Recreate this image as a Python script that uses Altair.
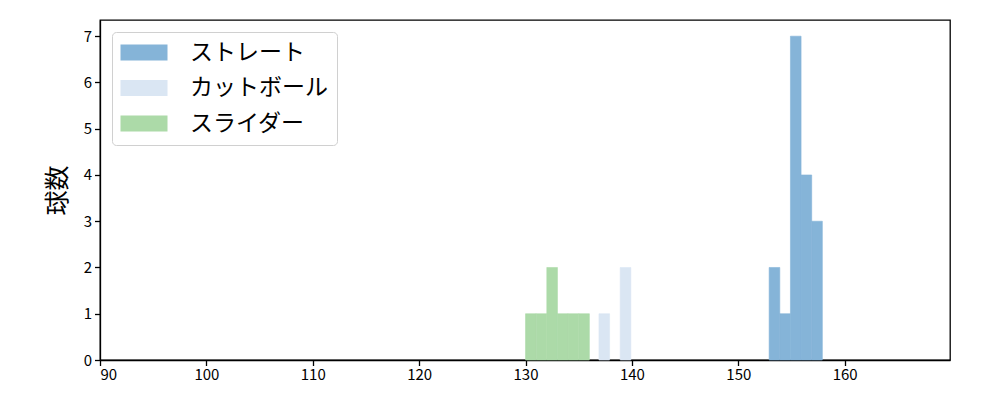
import altair as alt
import pandas as pd

series_names = ["ストレート", "カットボール", "スライダー"]
series_colors = ["#85b4d8", "#dae6f3", "#acdaa8"]

straight_start = [152.9, 153.9, 154.9, 155.9, 156.9]
straight_count = [2, 1, 7, 4, 3]
cutter_start = [136.9, 138.9]
cutter_count = [1, 2]
slider_start = [130, 131, 132, 133, 134, 135]
slider_count = [1, 1, 2, 1, 1, 1]
bin_width = 1.0

x_ticks = [90, 100, 110, 120, 130, 140, 150, 160]
y_ticks = [0, 1, 2, 3, 4, 5, 6, 7]

rows = []
for name, starts, counts in [
    (series_names[0], straight_start, straight_count),
    (series_names[1], cutter_start, cutter_count),
    (series_names[2], slider_start, slider_count),
]:
    for s, c in zip(starts, counts):
        rows.append({"球種": name, "start": s, "end": s + bin_width, "count": c})
df = pd.DataFrame(rows)

FONT = "Noto Sans CJK JP"
color_scale = alt.Scale(domain=series_names, range=series_colors)

chart = alt.Chart(df).mark_bar(opacity=1, strokeWidth=0.6).encode(
    x=alt.X("start:Q", scale=alt.Scale(domain=[90, 169.9], nice=False, zero=False),
            axis=alt.Axis(values=x_ticks, title=None, grid=False, tickSize=5.5,
                          labelFontSize=15, labelFont=FONT, labelColor="#000",
                          domainColor="#000", tickColor="#000", labelPadding=2,
                          domainWidth=1.3, tickWidth=1.3)),
    x2="end:Q",
    y=alt.Y("count:Q", scale=alt.Scale(domain=[0, 7.35], nice=False),
            axis=alt.Axis(values=y_ticks, title="球数", grid=False, tickSize=5.5,
                          labelFontSize=15, labelFont=FONT, labelColor="#000",
                          titleFont=FONT, titleFontSize=25, titleFontWeight="normal",
                          titleColor="#000", titlePadding=13,
                          domainColor="#000", tickColor="#000", labelPadding=3,
                          domainWidth=1.3, tickWidth=1.3)),
    y2=alt.datum(0),
    stroke=alt.Stroke("球種:N", scale=color_scale, legend=None),
    color=alt.Color("球種:N", scale=color_scale,
                    legend=alt.Legend(
                        title=None, orient="none", legendX=12, legendY=12,
                        symbolType="M-1.5,-1L4.375,-1L4.375,1L-1.5,1Z",
                        symbolSize=256, symbolStrokeWidth=0, symbolOpacity=1,
                        labelFont=FONT, labelFontSize=23, labelColor="#000",
                        labelOffset=46, rowPadding=11.5,
                        strokeColor="#d0d0d0", cornerRadius=4, fillColor="white",
                        padding=9, offset=0)),
).properties(
    width=850, height=340,
    autosize=alt.AutoSizeParams(type="none"),
    padding={"left": 92, "top": 12, "right": 42, "bottom": 32},
).configure_view(stroke="#000", strokeWidth=1.3)

chart.save("out.html", embed_options={"renderer": "svg", "actions": False})
